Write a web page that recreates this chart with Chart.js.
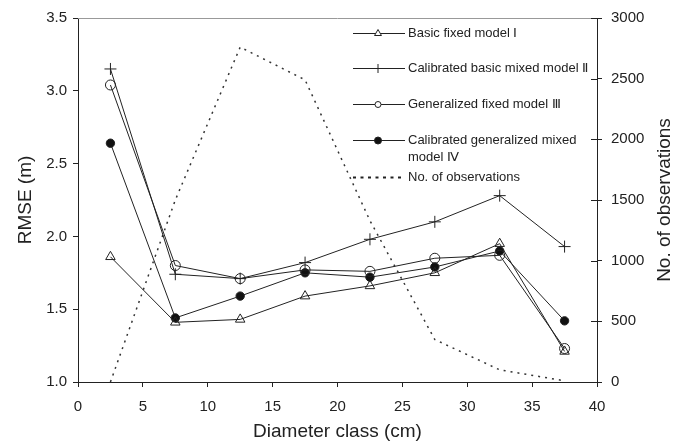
<!DOCTYPE html>
<html><head><meta charset="utf-8">
<script src="https://cdn.jsdelivr.net/npm/chart.js@4/dist/chart.umd.min.js"></script>
<style>html,body{margin:0;padding:0;background:#fff}#wrap{width:686px;height:445px}</style>
</head><body><div id="wrap"><canvas id="c"></canvas></div>
<script>
const diameterClasses = [2.5, 7.5, 12.5, 17.5, 22.5, 27.5, 32.5, 37.5];
const model1 = [1.86, 1.41, 1.43, 1.59, 1.66, 1.75, 1.95, 1.21];
const model2 = [3.15, 1.74, 1.71, 1.82, 1.98, 2.10, 2.28, 1.93];
const model3 = [3.04, 1.80, 1.71, 1.77, 1.76, 1.85, 1.87, 1.23];
const model4 = [2.64, 1.44, 1.59, 1.75, 1.72, 1.79, 1.90, 1.42];
const observations = [0, 1500, 2760, 2490, 1330, 350, 100, 10];
const seriesLabels = ['Basic fixed model Ⅰ', 'Calibrated basic mixed model Ⅱ', 'Generalized fixed model Ⅲ', 'Calibrated generalized mixed model Ⅳ', 'No. of observations'];
const legendLines = [['Basic fixed model Ⅰ'], ['Calibrated basic mixed model Ⅱ'], ['Generalized fixed model Ⅲ'], ['Calibrated generalized mixed', 'model Ⅳ'], ['No. of observations']];
const rightAxisTitle = 'No. of observations';

const INK = '#222';
const FONT = '"Liberation Sans", Arial, Helvetica, sans-serif';
const pts = (arr) => diameterClasses.map((x, i) => ({x, y: arr[i]}));

const styles = [
  {pointStyle: 'triangle', radius: 5.5, bg: 'rgba(255,255,255,0)', lr: 4},
  {pointStyle: 'cross', radius: 6, bg: 'rgba(255,255,255,0)', lr: 4.5},
  {pointStyle: 'circle', radius: 5, bg: 'rgba(255,255,255,0)', lr: 3},
  {pointStyle: 'circle', radius: 4.2, bg: '#111', lr: 3.5}
];
const modelData = [model1, model2, model3, model4];

const datasets = modelData.map((d, i) => ({
  label: seriesLabels[i],
  data: pts(d),
  yAxisID: 'y',
  borderColor: INK,
  borderWidth: 1,
  pointStyle: styles[i].pointStyle,
  pointRadius: styles[i].radius,
  pointBorderWidth: 1,
  pointBorderColor: INK,
  pointBackgroundColor: styles[i].bg,
  tension: 0,
  fill: false
}));
datasets.push({
  label: seriesLabels[4],
  data: pts(observations),
  yAxisID: 'y2',
  borderColor: '#333',
  borderWidth: 1.5,
  borderDash: [2, 5],
  pointRadius: 0,
  tension: 0,
  fill: false
});

const extras = {
  id: 'extras',
  afterDraw(chart) {
    const ctx = chart.ctx;
    const a = chart.chartArea;
    ctx.save();
    // top border
    ctx.strokeStyle = '#999';
    ctx.lineWidth = 1;
    ctx.beginPath();
    ctx.moveTo(a.left, a.top + 0.5);
    ctx.lineTo(a.right, a.top + 0.5);
    ctx.stroke();
    // inner ticks on right axis
    const y2 = chart.scales.y2;
    ctx.strokeStyle = INK;
    y2.ticks.forEach(t => {
      const py = Math.round(y2.getPixelForValue(t.value)) + 0.5;
      ctx.beginPath();
      ctx.moveTo(a.right - 6, py);
      ctx.lineTo(a.right, py);
      ctx.stroke();
    });
    // right axis title, reading bottom-to-top
    ctx.save();
    ctx.fillStyle = INK;
    ctx.font = '19px ' + FONT;
    ctx.textAlign = 'center';
    ctx.textBaseline = 'middle';
    ctx.translate(y2.right - 21.5, (a.top + a.bottom) / 2);
    ctx.rotate(-Math.PI / 2);
    ctx.fillText(rightAxisTitle, 0, 0);
    ctx.restore();
    // legend
    const x0 = 353, x1 = 405, xm = 378, tx = 408;
    const rows = [33, 68, 104, 140, 177];
    ctx.font = '13px ' + FONT;
    ctx.textBaseline = 'middle';
    ctx.textAlign = 'left';
    rows.forEach((ry, i) => {
      ctx.strokeStyle = INK;
      ctx.fillStyle = INK;
      ctx.lineWidth = i === 4 ? 2 : 1;
      ctx.setLineDash(i === 4 ? [3, 4.5] : []);
      ctx.beginPath();
      ctx.moveTo(x0, ry + 0.5);
      ctx.lineTo(x1, ry + 0.5);
      ctx.stroke();
      ctx.setLineDash([]);
      ctx.lineWidth = 1;
      if (i < 4) {
        ctx.fillStyle = i === 3 ? '#111' : '#fff';
        Chart.helpers.drawPoint(ctx, {pointStyle: styles[i].pointStyle, radius: styles[i].lr, rotation: 0, borderWidth: 1}, xm, ry + 0.5);
      }
      ctx.fillStyle = INK;
      legendLines[i].forEach((ln, k) => ctx.fillText(ln, tx, ry + k * 17));
    });
    ctx.restore();
  }
};

new Chart(document.getElementById('c'), {
  type: 'line',
  data: {datasets},
  options: {
    responsive: true,
    maintainAspectRatio: false,
    animation: false,
    layout: {padding: {top: 16, left: 0, right: 0, bottom: 0}},
    plugins: {legend: {display: false}, tooltip: {enabled: false}},
    scales: {
      x: {
        type: 'linear', min: 0, max: 40,
        ticks: {stepSize: 5, color: INK, font: {size: 15, family: FONT}, padding: 11, maxRotation: 0},
        grid: {drawOnChartArea: false, tickLength: 5, color: INK},
        border: {color: INK, width: 1},
        title: {display: true, text: 'Diameter class (cm)', color: INK, font: {size: 19, family: FONT}, padding: {top: 0, bottom: 2}},
        afterFit(s) { s.height = 63; }
      },
      y: {
        position: 'left', min: 1, max: 3.5,
        ticks: {stepSize: 0.5, color: INK, font: {size: 15, family: FONT}, padding: 6, callback: v => v.toFixed(1)},
        grid: {drawOnChartArea: false, tickLength: 5, color: INK},
        border: {color: INK, width: 1},
        title: {display: true, text: 'RMSE (m)', color: INK, font: {size: 19, family: FONT}, padding: {top: 14, bottom: 0}},
        afterFit(s) { s.width = 78; }
      },
      y2: {
        position: 'right', min: 0, max: 3000,
        ticks: {stepSize: 500, color: INK, font: {size: 15, family: FONT}, padding: 9, callback: v => String(v)},
        grid: {drawOnChartArea: false, tickLength: 5, color: INK},
        border: {color: INK, width: 1},
        title: {display: false},
        afterFit(s) { s.width = 89; }
      }
    }
  },
  plugins: [extras]
});
</script>
</body></html>
